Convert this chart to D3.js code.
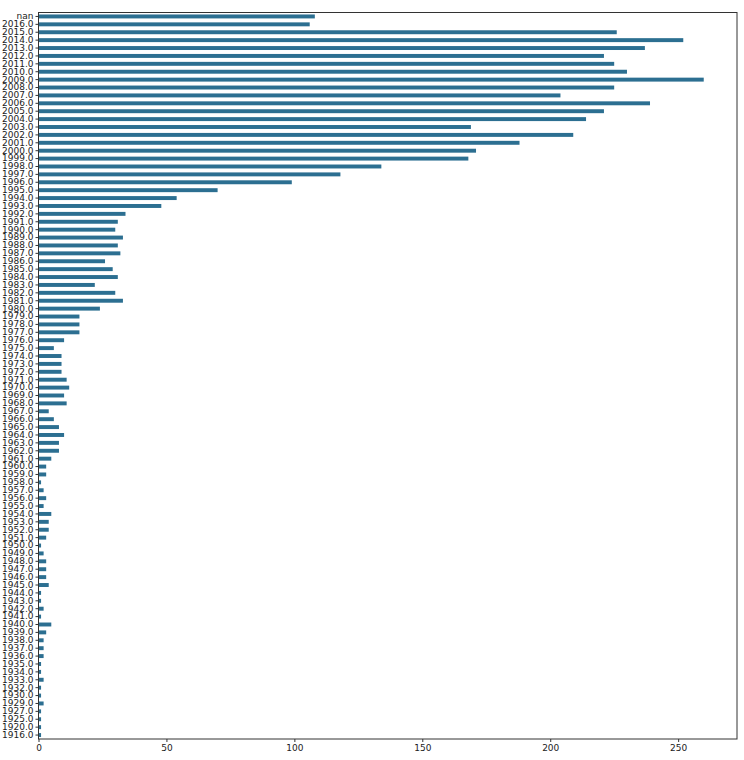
<!DOCTYPE html>
<html>
<head>
<meta charset="utf-8">
<script src="https://cdn.jsdelivr.net/npm/d3@7"></script>
<style>
  html, body { margin: 0; padding: 0; background: #fff; }
  svg { display: block; }
  text { font-family: "DejaVu Sans", sans-serif; fill: #222; }
</style>
</head>
<body>
<svg id="chart" width="744" height="760"></svg>
<script>
// Categories listed top to bottom
const categories = [
  "nan","2016.0","2015.0","2014.0","2013.0","2012.0","2011.0","2010.0","2009.0","2008.0",
  "2007.0","2006.0","2005.0","2004.0","2003.0","2002.0","2001.0","2000.0","1999.0","1998.0",
  "1997.0","1996.0","1995.0","1994.0","1993.0","1992.0","1991.0","1990.0","1989.0","1988.0",
  "1987.0","1986.0","1985.0","1984.0","1983.0","1982.0","1981.0","1980.0","1979.0","1978.0",
  "1977.0","1976.0","1975.0","1974.0","1973.0","1972.0","1971.0","1970.0","1969.0","1968.0",
  "1967.0","1966.0","1965.0","1964.0","1963.0","1962.0","1961.0","1960.0","1959.0","1958.0",
  "1957.0","1956.0","1955.0","1954.0","1953.0","1952.0","1951.0","1950.0","1949.0","1948.0",
  "1947.0","1946.0","1945.0","1944.0","1943.0","1942.0","1941.0","1940.0","1939.0","1938.0",
  "1937.0","1936.0","1935.0","1934.0","1933.0","1932.0","1930.0","1929.0","1927.0","1925.0",
  "1920.0","1916.0"
];
const counts = [
  108,106,226,252,237,221,225,230,260,225,
  204,239,221,214,169,209,188,171,168,134,
  118,99,70,54,48,34,31,30,33,31,
  32,26,29,31,22,30,33,24,16,16,
  16,10,6,9,9,9,11,12,10,11,
  4,6,8,10,8,8,5,3,3,1,
  2,3,2,5,4,4,3,1,2,3,
  3,3,4,1,1,2,1,5,3,2,
  2,2,1,1,2,1,1,2,1,1,
  1,1
];
const xTicks = [0, 50, 100, 150, 200, 250];
const xMax = 273;

const margin = {left: 38.5, right: 7, top: 12.5, bottom: 21};
const W = 744, H = 760;
const svg = d3.select("#chart");

const x = d3.scaleLinear().domain([0, xMax]).range([margin.left, W - margin.right]);
const y = d3.scaleBand().domain(categories)
  .range([margin.top, H - margin.bottom])
  .paddingInner(0.5).paddingOuter(0.25);

svg.append("g").selectAll("rect")
  .data(categories.map((c, i) => ({c, v: counts[i]})))
  .join("rect")
  .attr("x", x(0))
  .attr("y", d => y(d.c))
  .attr("width", d => x(d.v) - x(0))
  .attr("height", y.bandwidth())
  .attr("fill", "#2c6f91");

// frame
svg.append("rect")
  .attr("x", margin.left).attr("y", margin.top)
  .attr("width", W - margin.right - margin.left)
  .attr("height", H - margin.bottom - margin.top)
  .attr("fill", "none").attr("stroke", "#333").attr("stroke-width", 1);

const yAxis = svg.append("g")
  .attr("transform", `translate(${margin.left},0)`)
  .call(d3.axisLeft(y).tickSize(3).tickPadding(2));
yAxis.select(".domain").remove();
yAxis.selectAll("text").style("font-size", "9px").attr("fill", "#222");
yAxis.selectAll("line").attr("stroke", "#333");

const xAxis = svg.append("g")
  .attr("transform", `translate(0,${H - margin.bottom})`)
  .call(d3.axisBottom(x).tickValues(xTicks).tickFormat(d3.format("d")).tickSize(3).tickPadding(3));
xAxis.select(".domain").remove();
xAxis.selectAll("text").style("font-size", "9px").attr("fill", "#222");
xAxis.selectAll("line").attr("stroke", "#333");
</script>
</body>
</html>
